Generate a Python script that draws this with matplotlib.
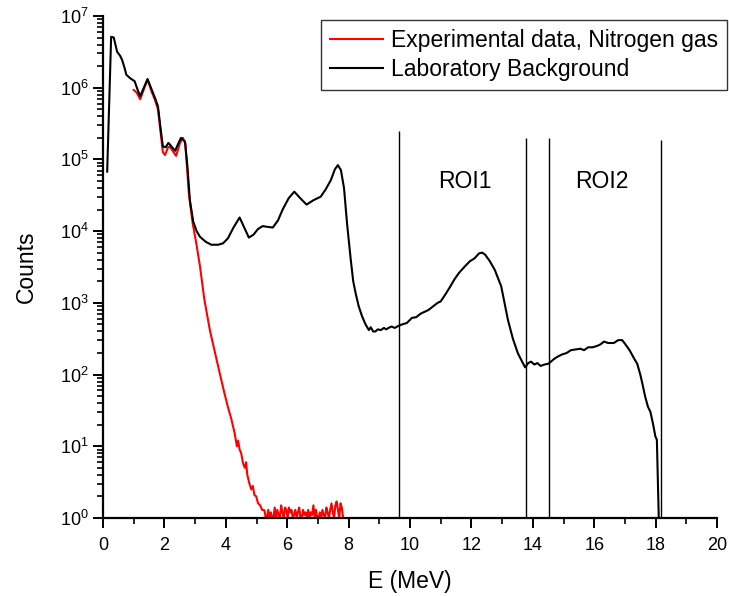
import numpy as np
import matplotlib
matplotlib.use("Agg")
import matplotlib.pyplot as plt

plt.rcParams['font.family'] = ['Liberation Sans', 'DejaVu Sans']
plt.rcParams['mathtext.fontset'] = 'custom'
plt.rcParams['mathtext.rm'] = 'Liberation Sans'
plt.rcParams['mathtext.it'] = 'Liberation Sans:italic'

# Laboratory background spectrum (E in MeV, log10 of counts)
bg_e = [0.136, 0.265, 0.35, 0.46, 0.55, 0.62, 0.70, 0.76, 0.89, 1.03, 1.12, 1.21,
        1.33, 1.45, 1.58, 1.70, 1.79, 1.87, 1.95, 2.04, 2.13, 2.25, 2.35, 2.45,
        2.54, 2.67, 2.75, 2.83, 2.94, 3.05, 3.16, 3.35, 3.53, 3.75, 3.91, 4.07,
        4.25, 4.45, 4.60, 4.75, 4.90, 5.05, 5.20, 5.35, 5.53, 5.70, 5.85, 6.05,
        6.23, 6.40, 6.63, 6.85, 7.09, 7.25, 7.42, 7.55, 7.65, 7.75, 7.85, 7.95,
        8.07, 8.15, 8.23, 8.33, 8.44, 8.55, 8.66, 8.72, 8.80, 8.87, 8.95, 9.05,
        9.15, 9.22, 9.30, 9.40, 9.50, 9.63, 9.75, 9.90, 10.06, 10.20, 10.35, 10.50,
        10.60, 10.75, 10.90, 11.00, 11.14, 11.30, 11.45, 11.60, 11.79, 11.95, 12.10,
        12.25, 12.35, 12.45, 12.60, 12.76, 12.97, 13.19, 13.35, 13.51, 13.65, 13.75,
        13.85, 13.94, 14.05, 14.15, 14.25, 14.38, 14.50, 14.59, 14.70, 14.81, 14.95,
        15.10, 15.24, 15.40, 15.55, 15.67, 15.80, 15.95, 16.10, 16.20, 16.32, 16.45,
        16.64, 16.78, 16.91, 17.00, 17.15, 17.29, 17.40, 17.50, 17.58, 17.66, 17.75,
        17.83, 17.92, 17.99, 18.04, 18.13]
bg_log = [4.83, 6.71, 6.70, 6.50, 6.45, 6.39, 6.28, 6.18, 6.13, 6.09, 5.98, 5.88,
          6.00, 6.12, 5.98, 5.85, 5.74, 5.45, 5.18, 5.17, 5.23, 5.17, 5.12, 5.22,
          5.30, 5.25, 4.90, 4.43, 4.13, 4.00, 3.92, 3.85, 3.81, 3.81, 3.83, 3.90,
          4.05, 4.19, 4.05, 3.91, 3.95, 4.03, 4.07, 4.06, 4.05, 4.15, 4.30, 4.46,
          4.55, 4.47, 4.37, 4.43, 4.48, 4.58, 4.71, 4.86, 4.92, 4.85, 4.60, 4.10,
          3.60, 3.30, 3.13, 2.95, 2.81, 2.70, 2.62, 2.66, 2.60, 2.60, 2.63, 2.62,
          2.65, 2.63, 2.65, 2.67, 2.65, 2.68, 2.70, 2.72, 2.79, 2.80, 2.85, 2.88,
          2.90, 2.95, 3.00, 3.02, 3.11, 3.22, 3.33, 3.42, 3.51, 3.58, 3.62,
          3.69, 3.70, 3.67, 3.58, 3.46, 3.23, 2.76, 2.50, 2.30, 2.18, 2.10,
          2.16, 2.18, 2.14, 2.16, 2.12, 2.14, 2.15, 2.18, 2.22, 2.25, 2.28,
          2.30, 2.34, 2.35, 2.36, 2.34, 2.38, 2.38, 2.40, 2.42, 2.46, 2.44,
          2.44, 2.48, 2.48, 2.43, 2.34, 2.23, 2.15, 2.00, 1.85, 1.69, 1.55,
          1.48, 1.30, 1.14, 1.09, -0.5]

# Experimental data, nitrogen gas (E in MeV, counts)
exp_e = [1.00, 1.10, 1.21, 1.33, 1.45, 1.58, 1.70, 1.79, 1.95, 2.02, 2.12, 2.18,
         2.30, 2.38, 2.50, 2.60, 2.68, 2.80, 2.92, 3.05, 3.16, 3.30, 3.48, 3.65,
         3.80, 3.95, 4.07, 4.18, 4.29, 4.36, 4.40, 4.45, 4.50, 4.56, 4.62, 4.66,
         4.70, 4.77, 4.83, 4.88, 4.93, 4.99, 5.05, 5.12, 5.18, 5.26, 5.30]
exp_counts = [9.3e5, 8.5e5, 6.9e5, 9.5e5, 1.3e6, 8.9e5, 6.6e5, 5.0e5, 1.26e5, 1.15e5,
              1.48e5, 1.5e5, 1.26e5, 1.12e5, 1.66e5, 2.0e5, 1.66e5, 3.2e4, 1.29e4,
              6.3e3, 3.2e3, 1.12e3, 417, 200, 105, 56, 35, 24, 15, 10, 12, 9, 8,
              5.8, 5.0, 6.0, 4.0, 3.0, 2.5, 2.8, 2.1, 2.0, 1.6, 1.5, 1.3, 1.28, 1.0]
tail_counts = [1.0, 1.3, 1.0, 1.2, 1.0, 1.0, 1.4, 1.0, 1.3, 1.1, 1.0, 1.5, 1.2, 1.0,
               1.4, 1.3, 1.0, 1.4, 1.2, 1.3, 1.0, 1.1, 1.3, 1.0, 1.2, 1.4, 1.0, 1.0,
               1.3, 1.1, 1.2, 1.0, 1.3, 1.0, 1.2, 1.1, 1.5, 1.0, 1.3, 1.0, 1.0, 1.2,
               1.0, 1.3, 1.1, 1.0, 1.4, 1.2, 1.0, 1.3, 1.6, 1.2, 1.0, 1.5, 1.7, 1.3,
               1.0, 1.6, 1.4, 1.0]
tail_e = np.linspace(5.34, 7.82, len(tail_counts))

# region-of-interest boundaries and their line tops
roi_x = [9.65, 13.78, 14.54, 18.18]
roi_top = [2.5e5, 2.0e5, 2.0e5, 1.85e5]
roi_labels = ["ROI1", "ROI2"]
roi_label_x = [11.78, 16.26]

exp_x = np.concatenate([exp_e, tail_e])
exp_y = np.concatenate([exp_counts, tail_counts])
bg_y = 10 ** np.array(bg_log)

fig = plt.figure(figsize=(7.29, 5.96), dpi=100)
ax = fig.add_axes([0.1413, 0.1309, 0.8423, 0.8423])

ax.plot(exp_x, exp_y, color='red', lw=1.5, label='Experimental data, Nitrogen gas')
ax.plot(bg_e, bg_y, color='black', lw=1.5, label='Laboratory Background')
ax.vlines(roi_x, 1, roi_top, color='black', lw=1.0)
for lab, lx in zip(roi_labels, roi_label_x):
    ax.text(lx, 4.9e4, lab, fontsize=16.5, ha='center', va='center')

ax.set_yscale('log')
ax.set_xlim(0, 20)
ax.set_ylim(1, 1e7)
ax.set_xticks(range(0, 21, 2))
ax.set_xticks(range(0, 21, 1), minor=True)
ax.spines['top'].set_visible(False)
ax.spines['right'].set_visible(False)
ax.spines['left'].set_linewidth(1.6)
ax.spines['bottom'].set_linewidth(1.6)
ax.tick_params(which='major', length=7, width=1.4, labelsize=13, direction='out')
ax.tick_params(axis='x', which='major', pad=7)
ax.tick_params(which='minor', length=4, width=1.2, direction='out')
ax.set_xlabel('E (MeV)', fontsize=16.5, labelpad=11)
ax.set_ylabel('Counts', fontsize=16.5, labelpad=16)

leg = ax.legend(loc='upper right', bbox_to_anchor=(727 / 729, 1 - 20 / 596),
                bbox_transform=fig.transFigure, fontsize=16.5, frameon=True,
                fancybox=False, edgecolor='black', handlelength=2.3,
                borderpad=0.4, labelspacing=0.25, handletextpad=0.35,
                borderaxespad=0)
leg.get_frame().set_linewidth(1.0)

fig.savefig('out.png', dpi=100)
